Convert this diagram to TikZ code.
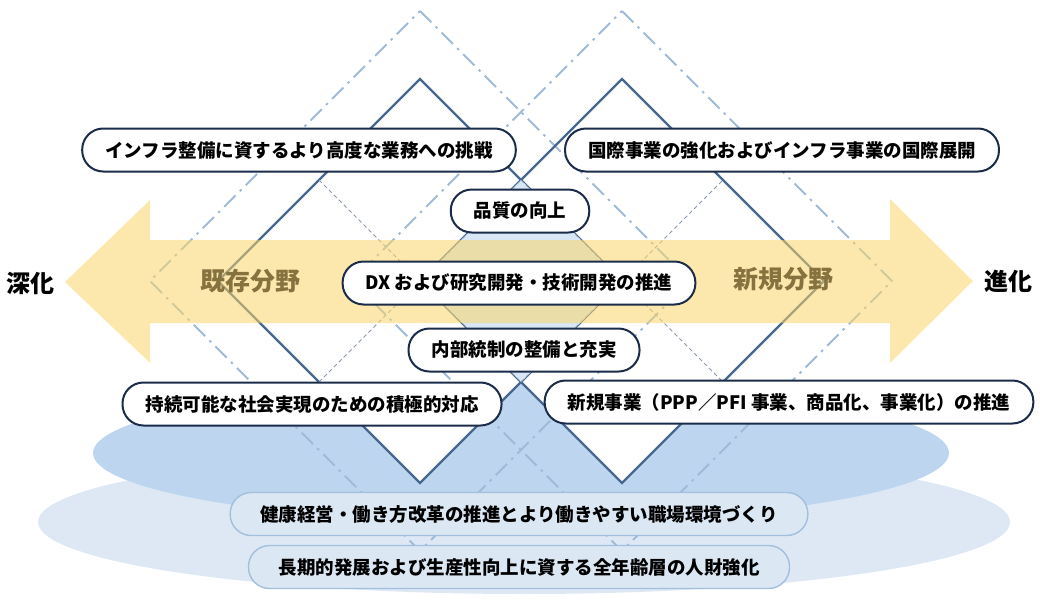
\documentclass[tikz,border=0pt]{standalone}
\usepackage{fontspec}
\setmainfont{Noto Sans CJK JP}
\definecolor{navy}{HTML}{1B2C4A}
\definecolor{diamondline}{HTML}{46678F}
\definecolor{outerline}{HTML}{9FBBD7}
\definecolor{gridline}{HTML}{8A9AB0}
\definecolor{overlapfill}{HTML}{D8E6F5}
\definecolor{ellipsedark}{HTML}{BDD5EE}
\definecolor{ellipselight}{HTML}{DDE8F4}
\definecolor{arrowyellow}{HTML}{FAD66A}
\definecolor{fieldtext}{HTML}{85723F}
\definecolor{basefill}{HTML}{DCE7F4}
\definecolor{baseline}{HTML}{A2BFDD}
\tikzset{
	goalbox/.style={draw=navy, line width=2pt, fill=white, rounded corners=21pt, minimum height=43pt, inner xsep=23pt, font=\bfseries\fontsize{18.5}{22}\selectfont},
	basebox/.style={goalbox, draw=baseline, line width=1.4pt, fill=basefill, inner xsep=30pt},
	squareline/.style={draw=diamondline, line width=2.4pt, line join=miter},
	outersquare/.style={draw=outerline, line width=2pt, dash pattern=on 16pt off 6pt on 2.5pt off 6pt},
	quarterline/.style={draw=gridline, line width=1pt, dash pattern=on 4pt off 3pt},
	sidelabel/.style={font=\bfseries\fontsize{24}{28}\selectfont},
	fieldlabel/.style={text=fieldtext, font=\bfseries\fontsize{25}{28}\selectfont}
}
\begin{document}
	\begin{tikzpicture}[x=1pt, y=-1pt]
		\useasboundingbox (0,0) rectangle (1040,600);
		% base ellipses
		\fill[ellipselight] (524,522) ellipse [x radius=486, y radius=72];
		\fill[ellipsedark] (521,453) ellipse [x radius=428, y radius=70];
		% the two fields
		\foreach \cx in {420,622}
			\fill[white] (\cx,79) -- (\cx+202,281) -- (\cx,483) -- (\cx-202,281) -- cycle;
		\foreach \cx in {420,622}
			\draw[outersquare] (\cx,11) -- (\cx+270,281) -- (\cx,551) -- (\cx-270,281) -- cycle;
		\foreach \cx in {420,622}
			\draw[squareline] (\cx,79) -- (\cx+202,281) -- (\cx,483) -- (\cx-202,281) -- cycle;
		\fill[overlapfill] (521,180) -- (622,281) -- (521,382) -- (420,281) -- cycle;
		\foreach \cx in {420,622} {
			\draw[quarterline] (\cx-101,180) -- (\cx+101,382);
			\draw[quarterline] (\cx-101,382) -- (\cx+101,180);
		}
		% double arrow
		\fill[arrowyellow, fill opacity=0.55] (65,282) -- (150,200) -- (150,240) -- (890,240) -- (890,199) -- (973,281) -- (890,363) -- (890,323) -- (150,323) -- (150,363) -- cycle;
		\node (deep) [sidelabel] at (30,283) {深化};
		\node (evolve) [sidelabel] at (1008,281) {進化};
		\node (existing) [fieldlabel] at (250,281) {既存分野};
		\node (newfield) [fieldlabel] at (783,279) {新規分野};
		% themes
		\node (infra) [goalbox] at (299,150) {インフラ整備に資するより高度な業務への挑戦};
		\node (intl) [goalbox] at (782,150) {国際事業の強化およびインフラ事業の国際展開};
		\node (quality) [goalbox] at (520,211) {品質の向上};
		\node (dx) [goalbox] at (519,283) {DX および研究開発・技術開発の推進};
		\node (control) [goalbox] at (524,350) {内部統制の整備と充実};
		\node (sustain) [goalbox] at (312,404) {持続可能な社会実現のための積極的対応};
		\node (newbiz) [goalbox] at (789,402) {新規事業（PPP／PFI 事業、商品化、事業化）の推進};
		% foundations
		\node (health) [basebox] at (519,514) {健康経営・働き方改革の推進とより働きやすい職場環境づくり};
		\node (talent) [basebox] at (519,567) {長期的発展および生産性向上に資する全年齢層の人財強化};
	\end{tikzpicture}
\end{document}
